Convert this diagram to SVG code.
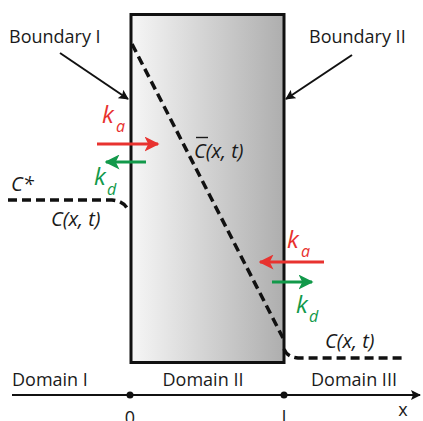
<svg xmlns="http://www.w3.org/2000/svg" width="423" height="421" viewBox="0 0 423 421">
<defs>
<linearGradient id="g" x1="0" y1="0" x2="1" y2="0">
<stop offset="0" stop-color="#f6f6f6"/>
<stop offset="1" stop-color="#aeaeae"/>
</linearGradient>
<marker id="ab" viewBox="0 0 10 10" refX="9" refY="5" markerWidth="10" markerHeight="10" markerUnits="userSpaceOnUse" orient="auto"><path d="M0,0 L10,5 L0,10 L2,5 Z" fill="#111"/></marker>
<marker id="ar" viewBox="0 0 10 10" refX="9" refY="5" markerWidth="5" markerHeight="5" orient="auto"><path d="M0,0 L10,5 L0,10 L2.5,5 Z" fill="#e8322f"/></marker>
<marker id="ag" viewBox="0 0 10 10" refX="9" refY="5" markerWidth="5" markerHeight="5" orient="auto"><path d="M0,0 L10,5 L0,10 L2.5,5 Z" fill="#12994a"/></marker>
</defs>
<style>
text{font-family:"Open Sans","Liberation Sans",sans-serif;fill:#1a1a1a}
.lbl{font-size:18px}
.it{font-style:italic;font-size:20px}
.k{font-style:italic;font-size:24px}
.sub{font-style:italic;font-size:16px}
.red{fill:#e8322f}
.grn{fill:#12994a}
.dash{fill:none;stroke:#111;stroke-width:3.5;stroke-dasharray:9 5}
.ra{stroke:#e8322f;stroke-width:3;fill:none;marker-end:url(#ar)}
.ga{stroke:#12994a;stroke-width:3;fill:none;marker-end:url(#ag)}
</style>
<g id="domain-ii">
<rect x="131" y="14.5" width="153" height="348" fill="url(#g)" stroke="#111" stroke-width="3"/>
</g>
<g id="connectors">
<line x1="60" y1="53" x2="128" y2="99" stroke="#111" stroke-width="2" marker-end="url(#ab)"/>
<line x1="352" y1="55" x2="286" y2="99" stroke="#111" stroke-width="2" marker-end="url(#ab)"/>
<line x1="97" y1="144" x2="158" y2="144" class="ra"/>
<line x1="146" y1="162" x2="106" y2="162" class="ga"/>
<line x1="324" y1="262" x2="260" y2="262" class="ra"/>
<line x1="272" y1="282" x2="312" y2="282" class="ga"/>
<line x1="12" y1="395" x2="420" y2="395" stroke="#111" stroke-width="2" marker-end="url(#ab)"/>
</g>
<g id="profiles">
<path class="dash" d="M132,44 L283,338"/>
<path class="dash" d="M8,200 L112,200 Q124,201 128,210"/>
<path class="dash" d="M284,349 Q287,357 298,358 L405,358"/>
</g>
<g id="boundary-i"><text class="lbl" x="9" y="43">Boundary I</text></g>
<g id="boundary-ii"><text class="lbl" x="309" y="43">Boundary II</text></g>
<g id="rates-left">
<text class="k red" x="102" y="123">k</text><text class="sub red" x="116" y="132">a</text>
<text class="k grn" x="94" y="185">k</text><text class="sub grn" x="107" y="195">d</text>
</g>
<g id="rates-right">
<text class="k red" x="287" y="248">k</text><text class="sub red" x="301" y="257">a</text>
<text class="k grn" x="296" y="313">k</text><text class="sub grn" x="309" y="322">d</text>
</g>
<g id="concentrations">
<text class="it" x="11" y="191">C*</text>
<text class="it" x="51" y="226">C(x, t)</text>
<text class="it" x="194" y="158">C(x, t)</text>
<line x1="196" y1="137.5" x2="208" y2="137.5" stroke="#1a1a1a" stroke-width="1.4"/>
<text class="it" x="325" y="348">C(x, t)</text>
</g>
<g id="axis-labels">
<circle cx="130" cy="395" r="3.5" fill="#111"/>
<circle cx="284" cy="395" r="3.5" fill="#111"/>
<text class="lbl" x="12" y="386">Domain I</text>
<text class="lbl" x="203" y="386" text-anchor="middle">Domain II</text>
<text class="lbl" x="354" y="386" text-anchor="middle">Domain III</text>
<text class="lbl" x="130" y="424" text-anchor="middle">0</text>
<text class="lbl" x="284" y="424" text-anchor="middle">l</text>
<text class="lbl" x="403" y="416" text-anchor="middle">x</text>
</g>
</svg>
